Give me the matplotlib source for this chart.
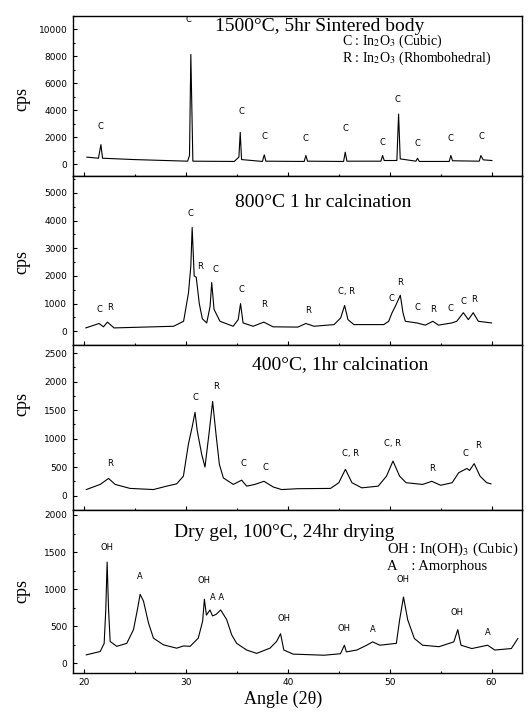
import matplotlib
matplotlib.use("Agg")
import matplotlib.pyplot as plt
from matplotlib.ticker import MultipleLocator

# ---- data (2theta in deg, intensity in cps) ----
sinter_x = [20.26, 21.4, 21.64, 21.8, 24.9, 30.15, 30.34, 30.47, 30.67, 34.73, 35.19, 35.32,
            35.45, 37.5, 37.68, 37.84, 41.6, 41.77, 41.93, 45.47, 45.63, 45.8, 49.13, 49.3,
            49.46, 50.7, 50.87, 51.03, 52.57, 52.73, 52.9, 55.84, 56.0, 56.17, 58.79, 58.95,
            59.18, 60.03]
sinter_y = [520, 440, 1450, 440, 340, 220, 640, 8150, 220, 200, 520, 2360,
            340, 200, 690, 220, 200, 640, 220, 200, 890, 220, 220, 640,
            270, 270, 3720, 390, 220, 440, 200, 200, 640, 250, 220, 640,
            320, 270]

c800_x = [20.16, 21.46, 21.89, 22.28, 22.93, 28.78, 29.76, 30.24, 30.47, 30.6, 30.8, 31.0,
          31.3, 31.6, 32.03, 32.36, 32.52, 32.75, 33.33, 34.63, 35.12, 35.35, 35.6, 36.59,
          37.63, 38.54, 40.98, 41.76, 42.57, 44.53, 45.18, 45.57, 45.9, 46.48, 49.41, 49.9,
          50.23, 50.55, 51.04, 51.3, 51.53, 52.67, 53.49, 54.23, 54.79, 56.09, 56.58, 57.23,
          57.72, 58.2, 58.7, 60.0]
c800_y = [120, 280, 160, 330, 120, 180, 360, 1390, 2360, 3750, 2000, 1950,
          1000, 450, 300, 900, 1760, 790, 360, 180, 420, 1000, 300, 180,
          330, 160, 150, 280, 180, 240, 480, 930, 420, 240, 240, 360,
          670, 900, 1300, 670, 360, 300, 220, 360, 220, 300, 360, 670,
          420, 670, 360, 300]

c400_x = [20.2, 21.57, 22.39, 23.04, 24.5, 26.8, 28.1, 29.08, 29.74, 30.23, 30.62, 30.88,
          31.1, 31.54, 31.86, 32.25, 32.61, 32.94, 33.27, 33.66, 34.64, 35.46, 35.95, 36.76,
          37.65, 38.56, 39.38, 41.0, 44.19, 45.0, 45.65, 46.29, 47.26, 48.87, 49.68, 50.32,
          50.97, 51.61, 53.23, 54.13, 55.0, 56.13, 56.77, 57.58, 57.84, 58.29, 58.87, 59.52,
          59.94]
c400_y = [105, 195, 300, 195, 125, 105, 165, 205, 340, 900, 1220, 1460,
          1135, 720, 500, 1080, 1650, 1080, 550, 310, 195, 270, 165, 195,
          250, 150, 105, 120, 125, 225, 460, 225, 135, 165, 340, 605,
          340, 225, 195, 250, 180, 225, 400, 475, 440, 560, 340, 225,
          205]

gel_x = [20.2, 21.57, 21.96, 22.12, 22.25, 22.39, 22.55, 23.2, 24.18, 24.84, 25.23, 25.49,
         25.82, 26.31, 26.8, 27.78, 29.08, 29.74, 30.4, 31.2, 31.63, 31.8, 32.0, 32.35,
         32.6, 32.95, 33.4, 33.99, 34.48, 34.97, 35.95, 36.93, 38.24, 38.89, 39.28, 39.6,
         40.52, 43.55, 45.16, 45.55, 45.74, 46.77, 47.74, 48.32, 49.03, 50.65, 50.97, 51.35,
         51.77, 52.42, 53.23, 54.84, 56.29, 56.68, 57.0, 58.06, 59.61, 60.32, 61.94, 62.58]
gel_y = [115, 160, 270, 730, 1365, 730, 295, 230, 270, 455, 730, 930,
         840, 545, 340, 250, 205, 235, 230, 340, 570, 865, 650, 720,
         640, 660, 720, 590, 385, 270, 180, 135, 205, 295, 400, 180,
         125, 110, 130, 245, 155, 180, 245, 290, 245, 270, 585, 895,
         585, 335, 245, 225, 290, 455, 245, 200, 245, 180, 200, 335]

# peak labels
sinter_lbl = ["C"] * 11
sinter_lbl_x = [21.57, 30.2, 35.45, 37.7, 41.77, 45.63, 49.3, 50.77, 52.73, 56.0, 59.05]
sinter_lbl_y = [2490, 10400, 3550, 1750, 1580, 2290, 1260, 4460, 1180, 1580, 1750]

c800_lbl = ["C", "R", "C", "R", "C", "C", "R", "R", "C, R", "C", "R", "C", "R", "C", "C", "R"]
c800_lbl_x = [21.46, 22.5, 30.4, 31.4, 32.85, 35.45, 37.7, 42.0, 45.8, 50.13, 51.04, 52.7,
              54.3, 56.0, 57.23, 58.3]
c800_lbl_y = [640, 690, 4080, 2180, 2060, 1360, 790, 600, 1270, 1030, 1610, 690,
              605, 670, 930, 1000]

c400_lbl = ["R", "C", "R", "C", "C", "C, R", "C, R", "R", "C", "R"]
c400_lbl_x = [22.55, 30.88, 32.94, 35.62, 37.8, 46.13, 50.32, 54.19, 57.4, 58.65]
c400_lbl_y = [475, 1635, 1830, 475, 410, 665, 830, 400, 665, 795]

gel_lbl = ["OH", "A", "OH", "A A", "OH", "OH", "A", "OH", "OH", "A"]
gel_lbl_x = [22.22, 25.49, 31.8, 33.0, 39.6, 45.55, 48.32, 51.35, 56.6, 59.61]
gel_lbl_y = [1500, 1110, 1055, 830, 545, 415, 390, 1065, 620, 355]

titles = ["1500\u00b0C, 5hr Sintered body", "800\u00b0C 1 hr calcination",
          "400\u00b0C, 1hr calcination", "Dry gel, 100\u00b0C, 24hr drying"]

plt.rcParams['font.family'] = ['DejaVu Sans']
plt.rcParams['mathtext.fontset'] = 'stix'
serif = 'Liberation Serif'

fig = plt.figure(figsize=(5.29, 7.28), dpi=100)
gs = fig.add_gridspec(4, 1, left=0.138, right=0.987, top=0.978, bottom=0.0755,
                      hspace=0, height_ratios=[160, 168, 165, 163])
axes = [fig.add_subplot(gs[i]) for i in range(4)]

panels = [
    (sinter_x, sinter_y, sinter_lbl, sinter_lbl_x, sinter_lbl_y, (-900, 11000), 2000, 1000),
    (c800_x, c800_y, c800_lbl, c800_lbl_x, c800_lbl_y, (-480, 5600), 1000, 500),
    (c400_x, c400_y, c400_lbl, c400_lbl_x, c400_lbl_y, (-250, 2650), 500, 250),
    (gel_x, gel_y, gel_lbl, gel_lbl_x, gel_lbl_y, (-130, 2070), 500, 250),
]
title_pos = [(0.55, 0.935), (0.556, 0.845), (0.595, 0.88), (0.47, 0.86)]
ylab_y = [0.48, 0.49, 0.64, 0.50]

for i, (ax, p) in enumerate(zip(axes, panels)):
    x, y, lbl, lx, ly, ylim, major, minor = p
    ax.plot(x, y, color='black', lw=0.8)
    for t, tx, ty in zip(lbl, lx, ly):
        ax.text(tx, ty, t, fontsize=6, ha='center', va='bottom', clip_on=True)
    ax.set_xlim(18.9, 63.0)
    ax.set_ylim(*ylim)
    ax.yaxis.set_major_locator(MultipleLocator(major))
    ax.yaxis.set_minor_locator(MultipleLocator(minor))
    ax.xaxis.set_major_locator(MultipleLocator(10))
    ax.xaxis.set_minor_locator(MultipleLocator(5))
    ax.tick_params(which='both', direction='in', labelsize=6.5, width=0.8)
    ax.tick_params(which='major', length=3)
    ax.tick_params(which='minor', length=1.5)
    ax.tick_params(axis='y', pad=4)
    for s in ax.spines.values():
        s.set_linewidth(1.0)
    ax.set_ylabel('cps', family=serif, fontsize=13)
    ax.yaxis.set_label_coords(-0.096, ylab_y[i])
    ax.text(title_pos[i][0], title_pos[i][1], titles[i], transform=ax.transAxes,
            family=serif, fontsize=14, ha='center', va='center')
    if i < 3:
        ax.tick_params(axis='x', labelbottom=False)

axes[0].text(0.60, 0.84, "C : In$_2$O$_3$ (Cubic)", transform=axes[0].transAxes,
             family=serif, fontsize=10, va='center')
axes[0].text(0.60, 0.735, "R : In$_2$O$_3$ (Rhombohedral)", transform=axes[0].transAxes,
             family=serif, fontsize=10, va='center')
axes[3].text(0.70, 0.755, "OH : In(OH)$_3$ (Cubic)", transform=axes[3].transAxes,
             family=serif, fontsize=10.5, va='center')
axes[3].text(0.70, 0.65, "A    : Amorphous", transform=axes[3].transAxes,
             family=serif, fontsize=10.5, va='center')

axes[3].set_xlabel('Angle (2\u03b8)', family=serif, fontsize=13)
axes[3].xaxis.set_label_coords(0.468, -0.11)

fig.savefig('out.png', dpi=100)
